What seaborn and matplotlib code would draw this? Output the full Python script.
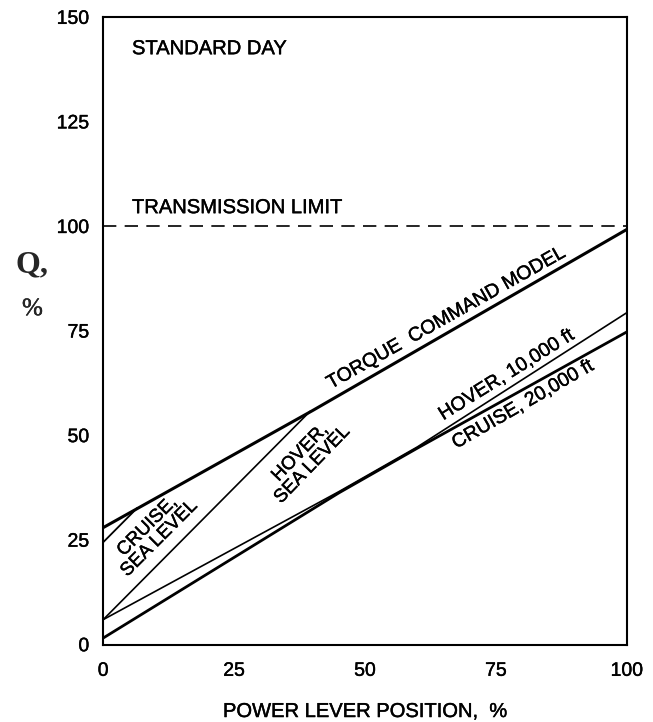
import matplotlib
matplotlib.use("Agg")
import matplotlib.pyplot as plt
import matplotlib.patheffects as pe
import seaborn as sns
import pandas as pd

# Power lever position (%) and torque demand Q (%) for each operating condition
torque_model_x = [0, 40, 100]
torque_model_q = [28, 56, 99.3]

cruise_sl_x = [0, 6.5]
cruise_sl_q = [24.5, 32.7]

hover_sl_x = [0, 39.5]
hover_sl_q = [6, 55.8]

hover_10k_x = [0, 45, 60, 100]
hover_10k_q = [6, 36.6, 47.3, 79.4]

cruise_20k_x = [0, 45, 60, 100]
cruise_20k_q = [1.6, 36.3, 47.0, 74.8]

transmission_limit = 100

x_ticks = [0, 25, 50, 75, 100]
y_ticks = [0, 25, 50, 75, 100, 125, 150]

sns.set_theme(style="white")
plt.rcParams["font.family"] = ["Liberation Sans", "DejaVu Sans"]

# a thin outline gives the lettering a slightly heavier weight
heavy = [pe.withStroke(linewidth=0.3, foreground="black")]

fig = plt.figure(figsize=(6.53, 7.22), dpi=100)
ax = fig.add_axes([0.158, 0.107, 0.802, 0.869])

series = [
    (torque_model_x, torque_model_q, 2.2),
    (cruise_sl_x, cruise_sl_q, 1.3),
    (hover_sl_x, hover_sl_q, 1.2),
    (hover_10k_x, hover_10k_q, 1.2),
    (cruise_20k_x, cruise_20k_q, 2.0),
]
for xs, qs, lw in series:
    df = pd.DataFrame({"plp": xs, "q": qs})
    sns.lineplot(data=df, x="plp", y="q", ax=ax, color="black",
                 linewidth=lw, estimator=None, sort=False)

ax.axhline(transmission_limit, color="black", linewidth=1.2,
           linestyle=(0, (8, 5)))

ax.set_xlim(0, 100)
ax.set_ylim(0, 150)
ax.set_xticks(x_ticks)
ax.set_yticks(y_ticks)
ax.set_xlabel("POWER LEVER POSITION,  %", fontsize=14.5, labelpad=16,
              color="black", path_effects=heavy)
ax.set_ylabel("")

for side in ["left", "bottom", "top", "right"]:
    ax.spines[side].set_visible(True)
    ax.spines[side].set_color("black")
    ax.spines[side].set_linewidth(1.5)

ax.tick_params(axis="both", direction="out", length=9, width=1.3,
               color="black", labelsize=14, labelcolor="black")
ax.tick_params(axis="y", pad=1)
ax.tick_params(axis="x", pad=4)
for t in ax.get_xticklabels() + ax.get_yticklabels():
    t.set_path_effects(heavy)

# Y-axis quantity, set in a serif face
ax.text(-0.135, 0.605, "Q,", transform=ax.transAxes, fontsize=23,
        fontweight="bold", family="Liberation Serif", ha="center",
        va="center")
ax.text(-0.135, 0.535, "%", transform=ax.transAxes, fontsize=18,
        family="Liberation Serif", ha="center", va="center",
        path_effects=heavy)

txt = dict(fontsize=14.5, color="black", path_effects=heavy)
ax.text(5.5, 142.5, "STANDARD DAY", ha="left", va="center", **txt)
ax.text(5.5, 104.5, "TRANSMISSION LIMIT", ha="left", va="center", **txt)

lab = dict(fontsize=14, color="black", rotation_mode="anchor",
           ha="center", va="center", path_effects=heavy)
ax.text(65.6, 78, "TORQUE  COMMAND MODEL", rotation=29.5, **lab)
ax.text(77.1, 64.4, "HOVER, 10,000 ft", rotation=32, **lab)
ax.text(80.2, 57.3, "CRUISE, 20,000 ft", rotation=30, **lab)
ax.text(9.6, 26.8, "CRUISE,\nSEA LEVEL", rotation=45,
        multialignment="center", linespacing=1.0,
        **{**lab, "fontsize": 13.5})
ax.text(38.8, 44.4, "HOVER,\nSEA LEVEL", rotation=46,
        multialignment="center", linespacing=1.0,
        **{**lab, "fontsize": 13.5})

fig.savefig("out.png", dpi=100, facecolor="white")
